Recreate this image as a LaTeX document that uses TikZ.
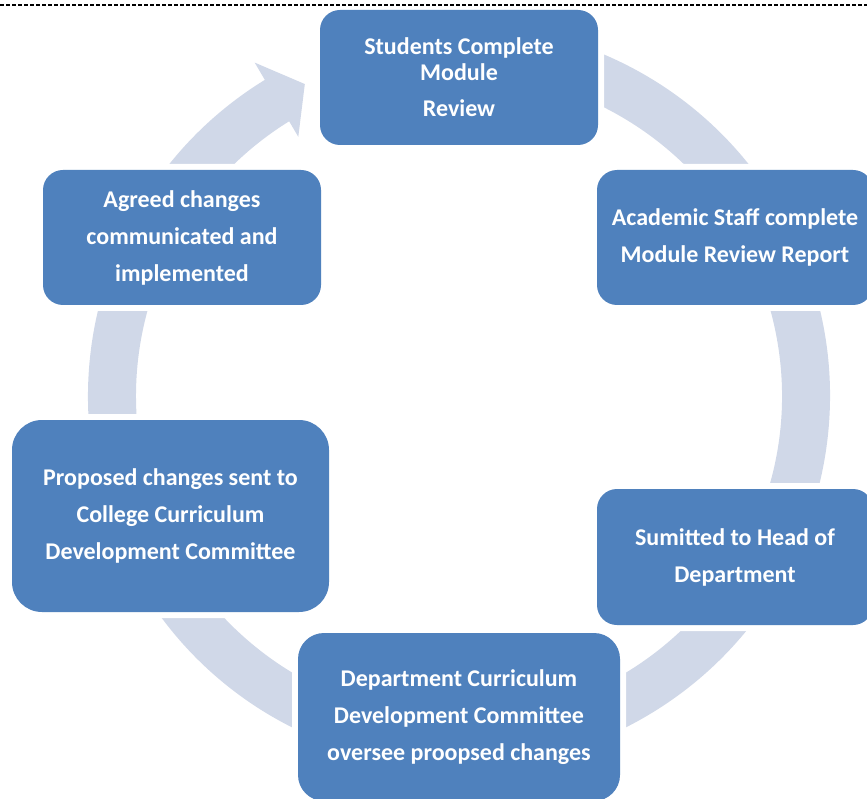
\documentclass[tikz,border=0pt]{standalone}
\usepackage{fontspec}
\setmainfont{Carlito}
\definecolor{boxblue}{HTML}{4F81BD}
\definecolor{ringc}{HTML}{D0D8E8}
\tikzset{
  x=1pt, y=1pt,
  box/.style={fill=boxblue, rounded corners=20pt, inner sep=0pt, align=center,
    text=white, font=\bfseries\fontsize{24}{37}\selectfont,
    preaction={draw=white, line width=12pt}},
}
\begin{document}
\begin{tikzpicture}
\useasboundingbox (0,0) rectangle (867,-799);
\clip (0,0) rectangle (867,-799);
\fill[white] (0,0) rectangle (867,-799);
% ring
\coordinate (c) at (459,-396);
\fill[ringc] ([shift={(121.5:371)}]c) arc[start angle=121.5, end angle=460, radius=371]
  -- ([shift={(460:323)}]c) arc[start angle=460, end angle=121.5, radius=323] -- cycle;
% arrowhead
\fill[ringc] ([shift={(121.5:391)}]c) -- ([shift={(116.3:348)}]c) -- ([shift={(121.8:305)}]c) -- cycle;
% boxes
\node[box, minimum width=278pt, minimum height=135pt, font=\bfseries\fontsize{24}{26}\selectfont] (b1) at (459,-77.5) {Students Complete\\Module\\[10pt]Review};
\node[box, minimum width=276pt, minimum height=135pt] (b2) at (735,-237.5) {Academic Staff complete\\Module Review Report};
\node[box, minimum width=276pt, minimum height=136pt] (b3) at (735,-557) {Sumitted to Head of\\Department};
\node[box, minimum width=322pt, minimum height=168pt, rounded corners=26pt] (b4) at (459,-717) {Department Curriculum\\Development Committee\\oversee proopsed changes};
\node[box, minimum width=317pt, minimum height=192pt, rounded corners=30pt] (b5) at (170.5,-516) {Proposed changes sent to\\College Curriculum\\Development Committee};
\node[box, minimum width=278pt, minimum height=135pt] (b6) at (182,-237.5) {Agreed changes\\communicated and\\implemented};
% top dashed rule
\draw[black, line width=1.5pt, dash pattern=on 4pt off 2pt] (0,-5) -- (867,-5);
\end{tikzpicture}
\end{document}
